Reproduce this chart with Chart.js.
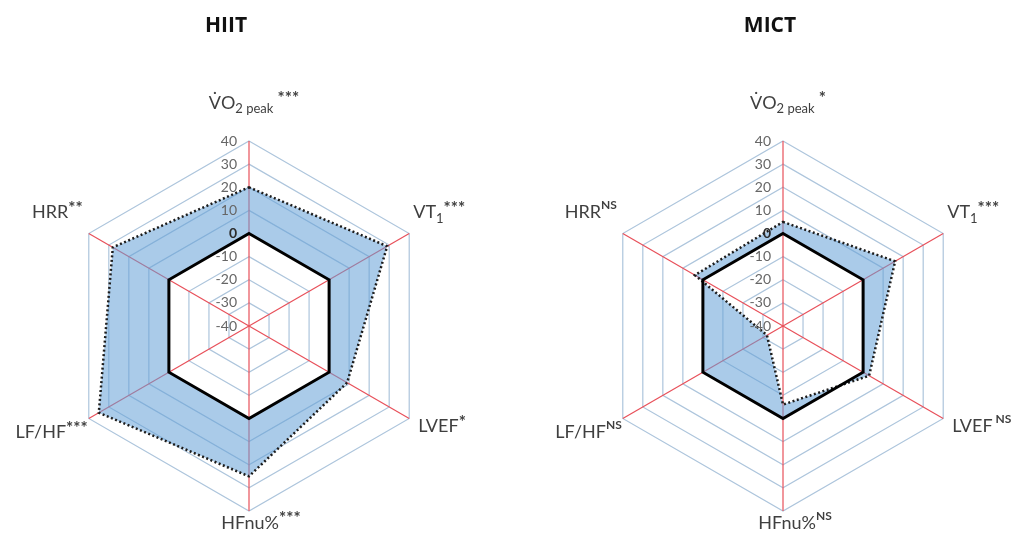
<!DOCTYPE html>
<html>
<head>
<meta charset="utf-8">
<title>HIIT vs MICT radar</title>
<script src="https://cdn.jsdelivr.net/npm/chart.js@4"></script>
<style>
  html, body { margin: 0; padding: 0; background: #fff; }
  #wrap { position: relative; width: 1011px; height: 538px; display: flex; }
  canvas { display: block; }
</style>
</head>
<body>
<div id="wrap">
  <canvas id="hiitChart" width="505" height="538"></canvas>
  <canvas id="mictChart" width="506" height="538"></canvas>
</div>
<script>
// axis names (base text + subscript part)
const categories = ["VO2peak", "VT1", "LVEF", "HFnu%", "LF/HF", "HRR"];
const labelBase = ["V\u0307O", "VT", "LVEF", "HFnu%", "LF/HF", "HRR"];
const labelSub = ["2 peak", "1", "", "", "", ""];

// significance marks per group
const hiitSig = ["***", "***", "*", "***", "***", "**"];
const mictSig = ["*", "***", "NS", "NS", "NS", "NS"];

// % change values
const hiitValues = [20, 29, 9, 25, 35, 28];
const mictValues = [5, 16, 3, -6, -32, 4];
const zeroRef = [0, 0, 0, 0, 0, 0];

const tickValues = [-40, -30, -20, -10, 0, 10, 20, 30, 40];

// where each axis label sits next to the end of its spoke: [dx, dy, align]
const labelPlace = [
  [5, -38, "center"],
  [4, -21, "left"],
  [9, 8, "left"],
  [12, 12, "center"],
  [-1, 14, "right"],
  [-6, -21, "right"]
];

const FONT = "Lato, 'Open Sans', sans-serif";

// draws tick labels, axis labels with sub/superscripts and the title
const radarDecor = {
  id: "radarDecor",
  afterDatasetsDraw(chart, args, opts) {
    const scale = chart.scales.r;
    const ctx = chart.ctx;
    ctx.save();

    // tick numbers, left of the vertical spoke
    ctx.textAlign = "right";
    ctx.textBaseline = "middle";
    tickValues.forEach(v => {
      const y = scale.yCenter - scale.getDistanceFromCenterForValue(v);
      ctx.font = (v === 0 ? "bold 14px " : "14px ") + FONT;
      ctx.fillStyle = v === 0 ? "#2b2b2b" : "#666";
      ctx.fillText(String(v), scale.xCenter - 12, y);
    });

    // axis labels
    chart.data.labels.forEach((lab, i) => {
      const isNs = opts.sig[i] === "NS";
      const segs = [
        { t: labelBase[i], size: 18, dy: 0 },
        { t: labelSub[i], size: 13, dy: 6 },
        { t: opts.sig[i], size: isNs ? 12 : 17, dy: isNs ? -7 : -4, bold: true }
      ].filter(s => s.t);
      // little gap before the mark on a few labels
      if (i === 0 || (i === 2 && isNs)) segs[segs.length - 1].t = " " + segs[segs.length - 1].t;

      let total = 0;
      segs.forEach(s => {
        ctx.font = (s.bold ? "bold " : "") + s.size + "px " + FONT;
        s.w = ctx.measureText(s.t).width;
        total += s.w;
      });

      const p = scale.getPointPosition(i, scale.drawingArea);
      const pl = labelPlace[i];
      let x = p.x + pl[0];
      const y = p.y + pl[1];
      if (pl[2] === "center") x -= total / 2;
      else if (pl[2] === "right") x -= total;

      ctx.textAlign = "left";
      ctx.textBaseline = "middle";
      ctx.fillStyle = "#3f3f3f";
      segs.forEach(s => {
        ctx.font = (s.bold ? "bold " : "") + s.size + "px " + FONT;
        ctx.fillText(s.t, x, y + s.dy);
        x += s.w;
      });
    });

    // group title
    ctx.font = "bold 21px 'Open Sans', sans-serif";
    ctx.fillStyle = "#111";
    ctx.textAlign = "center";
    ctx.textBaseline = "middle";
    ctx.fillText(opts.title, scale.xCenter + opts.titleDx, 26);

    ctx.restore();
  }
};

function makeRadar(canvasId, values, sig, title, titleDx, pad) {
  const ctx = document.getElementById(canvasId).getContext("2d");
  return new Chart(ctx, {
    type: "radar",
    data: {
      labels: categories,
      datasets: [
        {
          label: "zero",
          data: zeroRef,
          borderColor: "#000",
          borderWidth: 3,
          fill: false,
          pointRadius: 0,
          order: 0
        },
        {
          label: title,
          data: values,
          borderColor: "#1c1c1c",
          borderWidth: 2.5,
          borderDash: [2, 2.5],
          backgroundColor: "rgba(100,160,215,0.55)",
          fill: true,
          pointRadius: 0,
          order: 1
        }
      ]
    },
    options: {
      responsive: false,
      animation: false,
      layout: { padding: pad },
      plugins: {
        legend: { display: false },
        tooltip: { enabled: false },
        radarDecor: { sig: sig, title: title, titleDx: titleDx }
      },
      scales: {
        r: {
          min: -40,
          max: 40,
          ticks: { stepSize: 10, display: false },
          pointLabels: { display: false },
          grid: { color: "#adc5dc", lineWidth: 1.2 },
          angleLines: { color: "#e8505a", lineWidth: 1.2 }
        }
      }
    },
    plugins: [radarDecor]
  });
}

const hiitChart = makeRadar("hiitChart", hiitValues, hiitSig, "HIIT", -23,
  { left: 64, right: 71, top: 141, bottom: 27 });
const mictChart = makeRadar("mictChart", mictValues, mictSig, "MICT", -13,
  { left: 93, right: 43, top: 141, bottom: 27 });
</script>
</body>
</html>
